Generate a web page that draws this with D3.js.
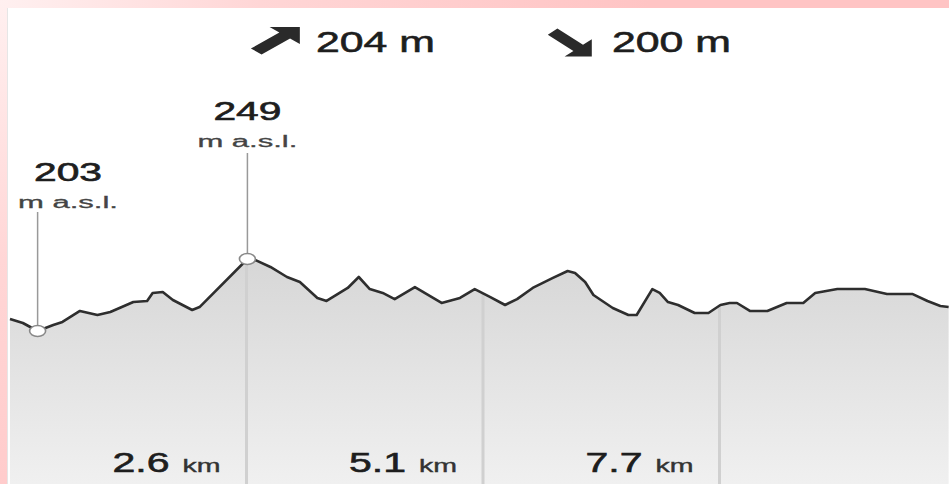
<!DOCTYPE html>
<html>
<head>
<meta charset="utf-8">
<script src="https://cdn.jsdelivr.net/npm/d3@7"></script>
<style>
  html, body { margin: 0; padding: 0; background: #fff; }
  svg { display: block; font-family: "Liberation Sans", Arial, sans-serif; }
</style>
</head>
<body>
<script>
const width = 949
const height = 484

// distance along track (km) and elevation (m a.s.l.)
const dist = [0, 0.14, 0.30, 0.47, 0.57, 0.76, 0.95, 1.09, 1.34, 1.49,
  1.55, 1.66, 1.77, 1.98, 2.06, 2.58, 2.68, 2.83, 3.01, 3.15,
  3.34, 3.44, 3.67, 3.79, 3.91, 4.05, 4.18, 4.40, 4.69, 4.89,
  5.05, 5.22, 5.38, 5.51, 5.68, 5.90, 6.06, 6.14, 6.25, 6.34,
  6.55, 6.72, 6.81, 6.98, 7.06, 7.15, 7.26, 7.44, 7.59, 7.72,
  7.82, 7.90, 8.04, 8.23, 8.44, 8.62, 8.75, 8.99, 9.29, 9.53,
  9.81, 9.97, 10.11, 10.20]
const elev = [210.7, 208.1, 203, 206.8, 208.8, 215.8, 213.2, 215.1, 221.5, 222.2,
  227.3, 227.9, 222.8, 216.4, 218.3, 249, 248, 243.9, 237.5, 234.3,
  224.1, 222.2, 230.5, 237.5, 229.8, 227.3, 223.4, 231.1, 220.9, 224.1,
  229.8, 224.7, 219.6, 223.4, 230.5, 236.9, 241.3, 240.1, 234.3, 226.0,
  217.7, 213.2, 213.2, 229.8, 227.3, 221.5, 219.6, 214.5, 214.5, 219.6,
  220.9, 220.9, 215.8, 215.8, 220.9, 220.9, 227.3, 229.8, 229.8, 226.6,
  226.6, 222.2, 219.0, 218.3]

const distTicks = [2.57, 5.14, 7.71]
const totals = [204, 200]   // ascent, descent
const unitElev = 'm a.s.l.'
const unitDist = 'km'

const data = dist.map((d, i) => ({d: d, e: elev[i]}))

const x = d3.scaleLinear().domain([0, 10.28]).range([10, 956])
const y = d3.scaleLinear().domain([203, 249]).range([331, 259])

const svg = d3.select('body').append('svg')
    .attr('width', width)
    .attr('height', height)

const defs = svg.append('defs')

const bg = defs.append('radialGradient')
    .attr('id', 'bg')
    .attr('gradientUnits', 'userSpaceOnUse')
    .attr('cx', 0).attr('cy', 0).attr('r', 650)
bg.append('stop').attr('offset', 0).attr('stop-color', '#fff0f0')
bg.append('stop').attr('offset', 0.4).attr('stop-color', '#ffd6d6')
bg.append('stop').attr('offset', 1).attr('stop-color', '#ffc4c4')

const fill = defs.append('linearGradient')
    .attr('id', 'fill')
    .attr('gradientUnits', 'userSpaceOnUse')
    .attr('x1', 0).attr('y1', 255).attr('x2', 0).attr('y2', 484)
fill.append('stop').attr('offset', 0).attr('stop-color', '#d6d6d6')
fill.append('stop').attr('offset', 1).attr('stop-color', '#f0f0f0')

const area = d3.area()
    .x(d => x(d.d))
    .y0(height)
    .y1(d => y(d.e))

defs.append('clipPath').attr('id', 'areaClip')
    .append('path')
    .attr('d', area(data))

// stretch a text horizontally to a given width
function fitText(sel, tx, ty, w, anchor) {
  sel.each(function() {
    const n = this.getComputedTextLength()
    const sx = w / n
    let x0 = tx
    if (anchor === 'end') x0 = tx - w
    if (anchor === 'middle') x0 = tx - w / 2
    d3.select(this).attr('transform', `translate(${x0},${ty}) scale(${sx},1)`)
  })
}

// background and panel
svg.append('rect')
    .attr('width', width).attr('height', height)
    .attr('fill', 'url(#bg)')

svg.append('rect')
    .attr('x', 8).attr('y', 8)
    .attr('width', width - 8).attr('height', height - 8)
    .attr('fill', '#fff')

svg.append('line')
    .attr('x1', 7.5).attr('y1', 8).attr('x2', 7.5).attr('y2', height)
    .style('stroke', '#e6e6e6')

// area
svg.append('path')
    .attr('d', area(data))
    .attr('fill', 'url(#fill)')

// grid lines inside area
svg.append('g')
    .attr('clip-path', 'url(#areaClip)')
    .selectAll('line')
    .data(distTicks)
    .join('line')
    .attr('x1', d => x(d)).attr('x2', d => x(d))
    .attr('y1', 200).attr('y2', height)
    .style('stroke', '#d0d0d0')
    .style('stroke-width', 3)

// profile line
svg.append('path')
    .attr('d', d3.line().x(d => x(d.d)).y(d => y(d.e))(data))
    .attr('fill', 'none')
    .style('stroke', '#2e2e2e')
    .style('stroke-width', 2.6)
    .style('stroke-linejoin', 'round')

// distance labels
distTicks.forEach(d => {
  const gx = x(d)
  svg.append('text')
      .attr('font-size', 19)
      .attr('fill', '#333')
      .style('stroke', '#333').style('stroke-width', 0.4)
      .text(unitDist)
      .call(fitText, gx - 26, 472, 38, 'end')

  svg.append('text')
      .attr('font-size', 28)
      .attr('fill', '#1e1e1e')
      .style('stroke', '#1e1e1e').style('stroke-width', 0.6)
      .text(d3.format('.1f')(d))
      .call(fitText, gx - 77, 472, 57, 'end')
})

// min / max markers
const iMin = d3.minIndex(data, d => d.e)
const iMax = d3.maxIndex(data, d => d.e)
const markers = [
  {p: data[iMin], top: 212, num: 181, unit: 208},
  {p: data[iMax], top: 153, num: 120, unit: 147}
]

markers.forEach(m => {
  const mx = x(m.p.d)
  const my = y(m.p.e)
  const lx = Math.max(mx, 68)

  svg.append('line')
      .attr('x1', mx).attr('x2', mx)
      .attr('y1', m.top).attr('y2', my)
      .style('stroke', '#999')
      .style('stroke-width', 1.5)

  svg.append('ellipse')
      .attr('cx', mx).attr('cy', my)
      .attr('rx', 8).attr('ry', 5.5)
      .attr('fill', '#fff')
      .style('stroke', '#888')
      .style('stroke-width', 1.6)

  svg.append('text')
      .attr('font-size', 25)
      .attr('fill', '#1e1e1e')
      .style('stroke', '#1e1e1e').style('stroke-width', 0.6)
      .text(Math.round(m.p.e))
      .call(fitText, lx, m.num, 68, 'middle')

  svg.append('text')
      .attr('font-size', 16)
      .attr('fill', '#444')
      .style('stroke', '#444').style('stroke-width', 0.3)
      .text(unitElev)
      .call(fitText, lx, m.unit, 100, 'middle')
})

// ascent / descent summary
const upArrow = 'M11,0 L28,0 L28,17 L22.5,11.5 L6.5,27.5 L0.5,21.5 L16.5,5.5 Z'
const downArrow = 'M11,28 L28,28 L28,11 L22.5,16.5 L6.5,0.5 L0.5,6.5 L16.5,22.5 Z'

svg.append('path')
    .attr('d', upArrow)
    .attr('transform', 'translate(250,27) scale(1.78,1)')
    .attr('fill', '#2a2a2a')

svg.append('path')
    .attr('d', downArrow)
    .attr('transform', 'translate(547,28) scale(1.6,1.02)')
    .attr('fill', '#2a2a2a')

totals.forEach((d, i) => {
  svg.append('text')
      .attr('font-size', 30)
      .attr('fill', '#1e1e1e')
      .style('stroke', '#1e1e1e').style('stroke-width', 0.6)
      .text(d + ' m')
      .call(fitText, i === 0 ? 316 : 612, 52, 119, 'start')
})
</script>
</body>
</html>
